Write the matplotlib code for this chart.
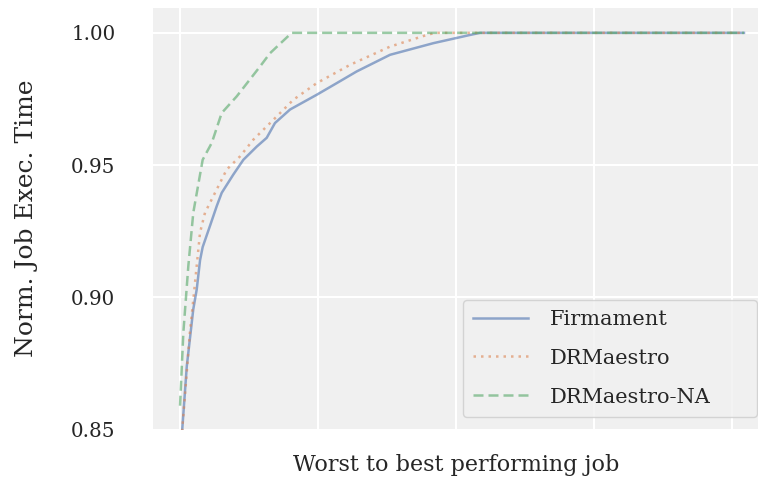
import matplotlib
matplotlib.use("Agg")
import matplotlib.pyplot as plt

plt.rcParams['font.family'] = ['DejaVu Serif']

labels = ["Firmament", "DRMaestro", "DRMaestro-NA"]

firm_x = [0, 17, 49, 96, 121, 145, 164, 217, 266, 302, 386, 459, 556, 628, 688, 797, 991, 1136, 1280, 1522, 1836, 2101, 2174, 4087]
firm_y = [0.838, 0.8508, 0.874, 0.8955, 0.903, 0.914, 0.919, 0.927, 0.9345, 0.9395, 0.9464, 0.952, 0.957, 0.9603, 0.9659, 0.971, 0.9766, 0.981, 0.9854, 0.9917, 0.9961, 0.9992, 1.0, 1.0]

drm_x = [0, 17, 72, 96, 145, 181, 266, 338, 435, 531, 701, 821, 991, 1232, 1522, 1788, 1848, 4087]
drm_y = [0.838, 0.8508, 0.887, 0.899, 0.9245, 0.932, 0.9408, 0.9483, 0.9533, 0.9596, 0.9684, 0.9747, 0.981, 0.9879, 0.9948, 0.9992, 1.0, 1.0]

na_x = [0, 24, 60, 96, 164, 230, 302, 411, 580, 652, 809, 4087]
na_y = [0.859, 0.8867, 0.9118, 0.932, 0.952, 0.9584, 0.9697, 0.976, 0.9873, 0.9923, 1.0, 1.0]

yticks = [0.85, 0.90, 0.95, 1.00]
xgrid = [0, 1000, 2000, 3000, 4000]

fig = plt.figure(figsize=(7.58, 4.78), dpi=100)
ax_left, ax_right, ax_top, ax_bot = 153, 767, 8, 429.5
ax = fig.add_axes([ax_left/758, 1-ax_bot/478, (ax_right-ax_left)/758, (ax_bot-ax_top)/478])
ax.set_facecolor('#f0f0f0')
for s in ax.spines.values():
    s.set_visible(False)

ax.plot(firm_x, firm_y, color='#4C72B0', alpha=0.6, lw=1.8, ls='-', label=labels[0])
ax.plot(drm_x, drm_y, color='#DD8452', alpha=0.6, lw=1.8, ls=(0, (1, 2)), label=labels[1])
ax.plot(na_x, na_y, color='#55A868', alpha=0.6, lw=1.8, ls=(0, (4, 2)), label=labels[2])

ax.set_xlim(-196, 4254)
ax.set_ylim(0.85, 1.0094)
ax.set_xticks(xgrid)
ax.set_xticklabels([])
ax.set_yticks(yticks)
ax.set_yticklabels([f"{v:.2f}" for v in yticks])
ax.tick_params(axis='both', length=0, labelsize=14.3, labelcolor='#262626')
ax.tick_params(axis='y', pad=27)
ax.grid(True, color='white', lw=1.5)
ax.set_axisbelow(True)

ax.set_ylabel("Norm. Job Exec. Time", fontsize=18, color='#262626')
ax.yaxis.set_label_coords(-0.187, 0.5)
ax.set_xlabel("Worst to best performing job", fontsize=16, color='#262626')
ax.xaxis.set_label_coords((456-ax_left)/(ax_right-ax_left), -0.058)

W = ax_right - ax_left
H = ax_bot - ax_top
leg = ax.legend(loc='lower left', mode='expand',
                bbox_to_anchor=((463-ax_left)/W, (ax_bot-417)/H, (757-463)/W, 0.2),
                borderaxespad=0, fontsize=15, handlelength=2.6, handletextpad=1.05,
                labelspacing=0.95, borderpad=0.5, frameon=True, facecolor='#f0f0f0',
                edgecolor='#cccccc', fancybox=True)
for t in leg.get_texts():
    t.set_color('#262626')

fig.savefig("out.png", dpi=100)
